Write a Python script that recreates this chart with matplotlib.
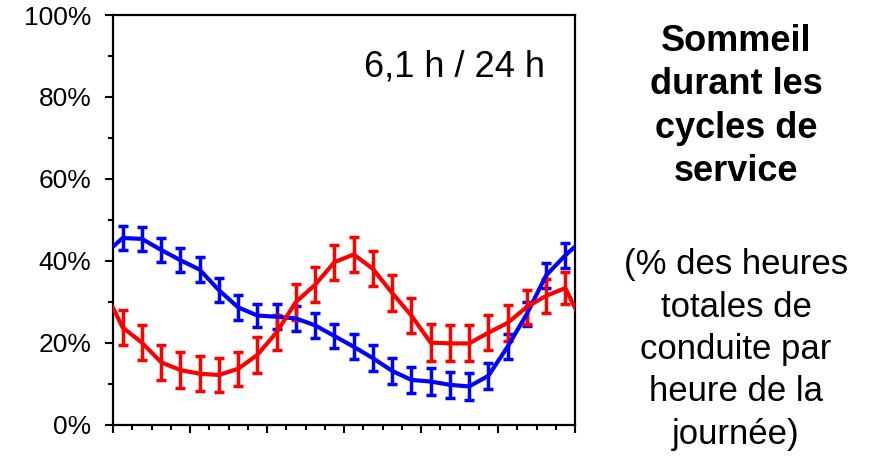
#!/usr/bin/env python3
"""Hourly share of sleep across duty cycles, with error bars."""

import matplotlib

matplotlib.use("Agg")
import matplotlib.pyplot as plt  # noqa: E402
from matplotlib.ticker import FuncFormatter  # noqa: E402

plt.rcParams["font.family"] = ["Liberation Sans", "DejaVu Sans"]

# One value per hour of the day (point drawn at the middle of each hour).
HOURS = list(range(24))
BLUE_PCT = [45.6, 45.4, 42.7, 40.2, 37.9, 32.9, 28.7, 26.7, 26.4, 26.0, 24.3, 21.7,
            19.1, 16.3, 13.2, 11.0, 10.6, 9.8, 9.4, 12.0, 19.1, 27.1, 36.5, 41.4]
BLUE_ERR = [3.0, 3.0, 3.0, 3.0, 3.0, 3.0, 3.0, 2.9, 3.0, 3.0, 3.0, 3.0,
            3.1, 3.1, 3.1, 3.2, 3.2, 3.2, 3.2, 3.1, 3.1, 3.0, 3.0, 3.0]
RED_PCT = [23.8, 20.1, 15.3, 13.4, 12.5, 12.2, 13.7, 17.1, 22.6, 30.0, 34.2, 39.7,
           41.6, 38.1, 32.2, 26.7, 20.1, 19.9, 19.9, 22.5, 24.9, 28.8, 31.5, 33.4]
RED_ERR = [4.3, 4.3, 4.3, 4.3, 4.3, 4.1, 4.2, 4.3, 4.3, 4.3, 4.3, 4.3,
           4.3, 4.3, 4.3, 4.3, 4.5, 4.4, 4.4, 4.3, 4.3, 4.2, 4.1, 4.0]

Y_TICKS = [0, 20, 40, 60, 80, 100]
Y_MINOR = [10, 30, 50, 70, 90]
X_MAJOR = [0, 4, 8, 12, 16, 20, 24]

ANNOTATION = "6,1 h / 24 h"
TITLE = "Sommeil\ndurant les\ncycles de\nservice"
SUBTITLE = "(% des heures\ntotales de\nconduite par\nheure de la\njournée)"


def draw_series(ax, values, errors, color):
    """Error bars at each hour, plus a line that wraps round midnight."""
    x = [h + 0.5 for h in HOURS]
    ax.errorbar(x, values, yerr=errors, fmt="none", ecolor=color,
                elinewidth=2.5, capsize=3.6, capthick=2.5, zorder=3)
    # repeat the last hour before 0 h and the first after 24 h so the curve
    # runs to both edges of the day
    wrap_x = [x[-1] - 24] + x + [x[0] + 24]
    wrap_y = [values[-1]] + values + [values[0]]
    ax.plot(wrap_x, wrap_y, color=color, linewidth=3.0, zorder=4)


def main():
    fig = plt.figure(figsize=(8.75, 4.62), dpi=100)
    ax = fig.add_axes([113 / 875, 37 / 462, 462 / 875, 410 / 462])

    draw_series(ax, BLUE_PCT, BLUE_ERR, "#0000FF")
    draw_series(ax, RED_PCT, RED_ERR, "#FF0000")

    ax.set_xlim(0, 24)
    ax.set_ylim(0, 100)
    ax.set_xticks(X_MAJOR)
    ax.set_xticks(HOURS, minor=True)
    ax.set_xticklabels([])
    ax.set_yticks(Y_TICKS)
    ax.set_yticks(Y_MINOR, minor=True)
    ax.yaxis.set_major_formatter(FuncFormatter(lambda v, _: f"{v:.0f}%"))
    ax.tick_params(axis="both", which="major", direction="out", length=5.5,
                   width=1.5, color="black")
    ax.tick_params(axis="both", which="minor", direction="out", length=3.5,
                   width=1.5, color="black")
    ax.tick_params(axis="y", which="major", labelsize=19, pad=10)
    for spine in ax.spines.values():
        spine.set_linewidth(1.6)

    ax.text(0.935, 0.8495, ANNOTATION, transform=ax.transAxes,
            ha="right", va="baseline", fontsize=26)

    fig.text(736 / 875, 1 - 106.5 / 462, TITLE, ha="center", va="center",
             fontsize=26, fontweight="bold", linespacing=1.31)
    fig.text(736 / 875, 1 - 349.5 / 462, SUBTITLE, ha="center", va="center",
             fontsize=25, linespacing=1.36)

    fig.savefig("out.png", dpi=100, facecolor="white")
    plt.close(fig)


if __name__ == "__main__":
    main()
